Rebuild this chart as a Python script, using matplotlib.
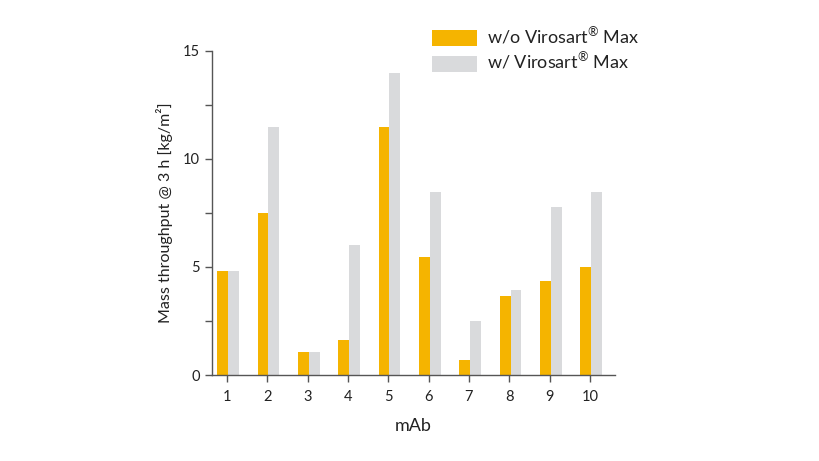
import matplotlib
matplotlib.use("Agg")
import matplotlib.pyplot as plt
import numpy as np

categories = ["1", "2", "3", "4", "5", "6", "7", "8", "9", "10"]
without_vm = [4.8, 7.5, 1.06, 1.62, 11.5, 5.46, 0.7, 3.65, 4.35, 5.0]
with_vm = [4.8, 11.5, 1.06, 6.0, 14.0, 8.47, 2.5, 3.95, 7.78, 8.47]
series_labels = ["w/o Virosart$^{\u00ae}$ Max", "w/ Virosart$^{\u00ae}$ Max"]

fam = "Lato"
plt.rcParams['font.family'] = [fam, 'DejaVu Sans']
plt.rcParams['mathtext.fontset'] = 'custom'
plt.rcParams['mathtext.rm'] = fam

W, H = 820, 461
fig = plt.figure(figsize=(W/100, H/100), dpi=100)
ax = fig.add_axes([212/W, 1-375/H, (615-212)/W, (375-51)/H])

orange = "#F5B400"
gray = "#D9DADC"
x = np.arange(1, len(categories)+1)
w = 0.27
b1 = ax.bar(x - w/2 + 0.03, without_vm, width=w, color=orange, label=series_labels[0])
b2 = ax.bar(x + w/2 + 0.03, with_vm, width=w, color=gray, label=series_labels[1])

ax.set_xlim(0.63, 10.62)
ax.set_ylim(0, 15)
ax.set_xticks(x)
ax.set_xticklabels(categories, fontsize=10.5, color="#222222")
ax.set_yticks([0, 5, 10, 15])
ax.set_yticks([2.5, 7.5, 12.5], minor=True)
ax.tick_params(axis='y', which='both', length=5, color="#555555", labelsize=10.5, labelcolor="#222222", width=1)
ax.tick_params(axis='x', length=5, color="#555555", width=1, pad=6)
for s in ["top", "right"]:
    ax.spines[s].set_visible(False)
for s in ["left", "bottom"]:
    ax.spines[s].set_color("#555555")
    ax.spines[s].set_linewidth(1)

ax.set_ylabel("Mass throughput @ 3 h [kg/m\u00b2]", fontsize=11.5, color="#222222", labelpad=7)
ax.set_xlabel("mAb", fontsize=13, color="#222222", labelpad=10)

leg = fig.legend(handles=[b1, b2], loc="upper left", bbox_to_anchor=(432/W, 1-26/H),
                 frameon=False, fontsize=13, handlelength=2.5, handleheight=1.0,
                 labelspacing=0.25, handletextpad=0.55, borderpad=0, borderaxespad=0)
for t in leg.get_texts():
    t.set_color("#222222")

fig.savefig("out.png", dpi=100)
